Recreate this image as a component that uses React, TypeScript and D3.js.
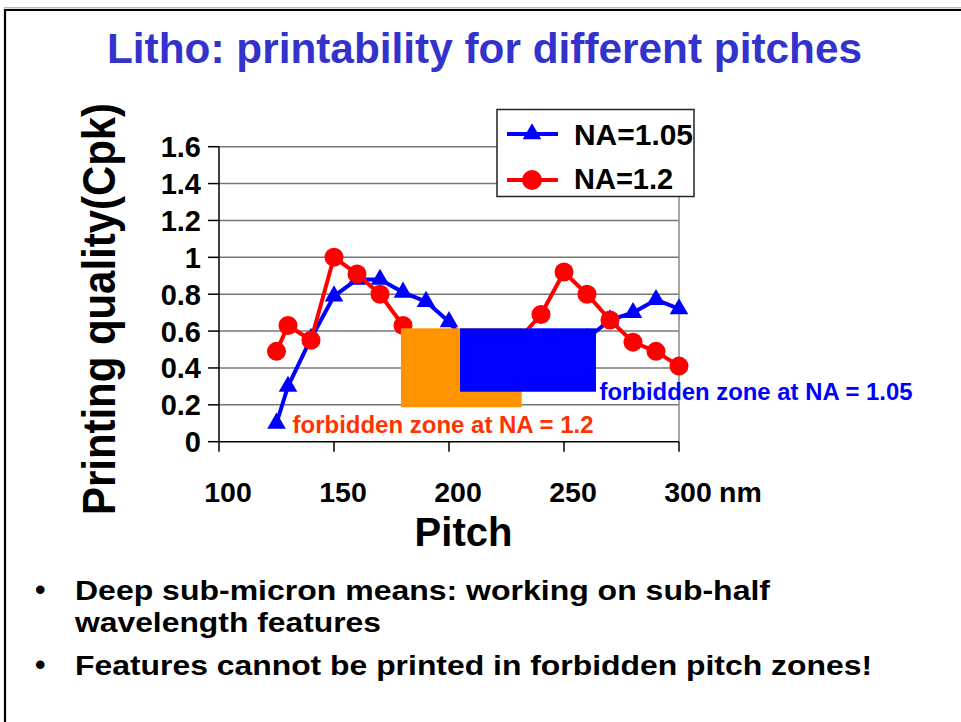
import React from "react";
import * as d3 from "d3";

// Pitch values (nm) sampled for both illumination settings
const PITCHES = [125, 130, 140, 150, 160, 170, 180, 190, 200, 210, 220, 230, 240, 250, 260, 270, 280, 290, 300];
// Cpk for NA = 1.05
const NA105 = [0.10, 0.30, 0.56, 0.79, 0.88, 0.88, 0.81, 0.76, 0.65, 0.50, 0.40, 0.33, 0.38, 0.47, 0.56, 0.66, 0.70, 0.77, 0.72];
// Cpk for NA = 1.2
const NA12 = [0.49, 0.63, 0.55, 1.00, 0.91, 0.80, 0.63, 0.45, 0.30, 0.25, 0.35, 0.55, 0.69, 0.92, 0.80, 0.66, 0.54, 0.49, 0.41];

const X_TICKS = [100, 150, 200, 250, 300];
const X_TICK_LABELS = ["100", "150", "200", "250", "300"];
const Y_TICKS = [0, 0.2, 0.4, 0.6, 0.8, 1.0, 1.2, 1.4, 1.6];
const Y_TICK_LABELS = ["0", "0.2", "0.4", "0.6", "0.8", "1", "1.2", "1.4", "1.6"];

// Forbidden pitch zones: [pitchFrom, pitchTo, cpkFrom, cpkTo]
const ZONE_NA12 = [179.1, 231.6, 0.187, 0.615];
const ZONE_NA105 = [204.8, 263.9, 0.271, 0.615];

const FONT = "'Liberation Sans', Arial, Helvetica, sans-serif";

export default function App() {
  const x = d3.scaleLinear().domain([100, 300]).range([219, 679]);
  const y = d3.scaleLinear().domain([0, 1.6]).range([441.7, 146.7]);

  const line = d3
    .line<number>()
    .x((_, i) => x(PITCHES[i]))
    .y((d) => y(d));

  const tri = d3.symbol().type(d3.symbolTriangle).size(150)() as string;

  const blue = "#0000FF";
  const red = "#FF0000";

  return (
    <svg
      width={961}
      height={722}
      style={{ position: "absolute", left: 0, top: 0, background: "#fff" }}
      fontFamily={FONT}
      fontWeight="bold"
    >
      <rect x={0} y={0} width={961} height={722} fill="#fff" />
      {/* slide frame */}
      <line x1={4} x2={961} y1={7.8} y2={7.8} stroke="#999" strokeWidth={1} />
      <path d="M5,722 V10 H961" fill="none" stroke="#000" strokeWidth={2.2} />

      {/* title */}
      <text x={107} y={63} fontSize={42} fill="#3333CC" textLength={755} lengthAdjust="spacingAndGlyphs">
        Litho: printability for different pitches
      </text>

      {/* gridlines */}
      {Y_TICKS.filter((t) => t > 0).map((t) => (
        <line key={"g" + t} x1={x(100)} x2={x(300)} y1={y(t)} y2={y(t)} stroke="#777" strokeWidth={1.5} />
      ))}
      {/* right edge of plot area */}
      <line x1={x(300)} x2={x(300)} y1={y(1.6)} y2={y(0)} stroke="#888" strokeWidth={1.5} />

      {/* axes */}
      <line x1={x(100)} x2={x(300)} y1={y(0)} y2={y(0)} stroke="#000" strokeWidth={1.5} />
      <line x1={x(100)} x2={x(100)} y1={y(0)} y2={y(1.6)} stroke="#000" strokeWidth={1.5} />
      {X_TICKS.map((t) => (
        <line key={"xt" + t} x1={x(t)} x2={x(t)} y1={y(0)} y2={y(0) + 10} stroke="#000" strokeWidth={1.5} />
      ))}
      {Y_TICKS.map((t) => (
        <line key={"yt" + t} x1={x(100) - 11} x2={x(100)} y1={y(t)} y2={y(t)} stroke="#000" strokeWidth={1.5} />
      ))}

      {/* tick labels */}
      {Y_TICKS.map((t, i) => (
        <text key={"yl" + t} x={201} y={y(t) + 10.5} fontSize={29} textAnchor="end" fill="#000">
          {Y_TICK_LABELS[i]}
        </text>
      ))}
      {X_TICKS.map((t, i) => (
        <text key={"xl" + t} x={x(t) + 9} y={502} fontSize={28.5} textAnchor="middle" fill="#000">
          {X_TICK_LABELS[i]}
        </text>
      ))}
      <text x={719} y={502} fontSize={28.5} fill="#000">nm</text>

      {/* axis titles */}
      <text x={463.5} y={546} fontSize={40} textAnchor="middle" fill="#000">Pitch</text>
      <text
        transform="translate(115,309) rotate(-90)"
        x={0}
        y={0}
        fontSize={47}
        textAnchor="middle"
        fill="#000"
        textLength={412}
        lengthAdjust="spacingAndGlyphs"
      >
        Printing quality(Cpk)
      </text>

      {/* series NA = 1.05 */}
      <path d={line(NA105) || ""} fill="none" stroke={blue} strokeWidth={4} strokeLinejoin="round" />
      {NA105.map((v, i) => (
        <path key={"b" + i} d={tri} transform={`translate(${x(PITCHES[i])},${y(v)})`} fill={blue} />
      ))}

      {/* series NA = 1.2 */}
      <path d={line(NA12) || ""} fill="none" stroke={red} strokeWidth={4} strokeLinejoin="round" />
      {NA12.map((v, i) => (
        <circle key={"r" + i} cx={x(PITCHES[i])} cy={y(v)} r={9.5} fill={red} />
      ))}

      {/* forbidden zones */}
      <rect
        x={x(ZONE_NA12[0])}
        y={y(ZONE_NA12[3])}
        width={x(ZONE_NA12[1]) - x(ZONE_NA12[0])}
        height={y(ZONE_NA12[2]) - y(ZONE_NA12[3])}
        fill="#FF9400"
      />
      <rect
        x={x(ZONE_NA105[0])}
        y={y(ZONE_NA105[3])}
        width={x(ZONE_NA105[1]) - x(ZONE_NA105[0])}
        height={y(ZONE_NA105[2]) - y(ZONE_NA105[3])}
        fill="#0000FF"
      />
      <text x={292.5} y={433} fontSize={23} fill="#FF3300" textLength={301} lengthAdjust="spacingAndGlyphs">
        forbidden zone at NA = 1.2
      </text>
      <text x={599.5} y={400} fontSize={23} fill="#0000FF" textLength={313} lengthAdjust="spacingAndGlyphs">
        forbidden zone at NA = 1.05
      </text>

      {/* legend */}
      <rect x={497} y={109.5} width={197} height={87} fill="#fff" stroke="#222" strokeWidth={1.5} />
      <line x1={507} x2={558} y1={134} y2={134} stroke={blue} strokeWidth={4} />
      <path d={tri} transform="translate(532,134)" fill={blue} />
      <text x={574} y={145} fontSize={29} fill="#000" textLength={119} lengthAdjust="spacingAndGlyphs">NA=1.05</text>
      <line x1={507} x2={558} y1={180} y2={180} stroke={red} strokeWidth={4} />
      <circle cx={532} cy={180} r={10} fill={red} />
      <text x={574} y={189} fontSize={29} fill="#000">NA=1.2</text>

      {/* bullet points */}
      <text x={35} y={600} fontSize={30} fill="#000">•</text>
      <text x={75} y={600} fontSize={28} fill="#000" textLength={695} lengthAdjust="spacingAndGlyphs">
        Deep sub-micron means: working on sub-half
      </text>
      <text x={75} y={632} fontSize={28} fill="#000" textLength={306} lengthAdjust="spacingAndGlyphs">
        wavelength features
      </text>
      <text x={35} y={675} fontSize={30} fill="#000">•</text>
      <text x={75} y={675} fontSize={28} fill="#000" textLength={797} lengthAdjust="spacingAndGlyphs">
        Features cannot be printed in forbidden pitch zones!
      </text>
    </svg>
  );
}
